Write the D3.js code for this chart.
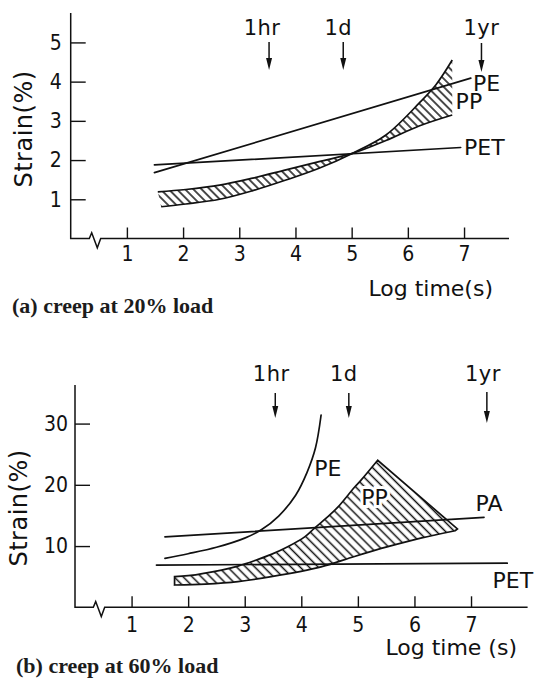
<!DOCTYPE html>
<html><head><meta charset="utf-8">
<script src="https://cdn.jsdelivr.net/npm/d3@7"></script>
<style>
body{margin:0;background:#fff}
svg{display:block;background:#fff}
.f text{font-family:"DejaVu Sans",sans-serif;fill:#111}
.tick text{font-family:"DejaVu Sans Condensed","DejaVu Sans",sans-serif;font-stretch:condensed;font-size:21px;fill:#111}
.cap{font-family:"Liberation Serif","Times New Roman",serif;font-weight:bold;font-size:22px;fill:#1c1c1c}
</style></head><body>
<svg id="c" width="546" height="689"></svg>
<script>
// ---------- data ----------
const xTicks = [1, 2, 3, 4, 5, 6, 7];
const aYTicks = [1, 2, 3, 4, 5];
const bYTicks = [10, 20, 30];
const markLabels = ["1hr", "1d", "1yr"];
const aMarkX = [3.53, 4.85, 7.31];
const bMarkX = [3.54, 4.84, 7.28];

// (a) creep at 20% load  [log time, strain %]
const aPE  = [[1.49, 1.68], [7.12, 4.09]];
const aPET = [[1.49, 1.875], [6.94, 2.32]];
const aPPsteep  = [[1.61, 0.81], [2.05, 0.88], [2.65, 1.0], [3.24, 1.22], [3.83, 1.49], [4.42, 1.79], [5.01, 2.17], [5.61, 2.64], [6.2, 3.45], [6.5, 3.92], [6.79, 4.55]];
const aPPgentle = [[1.55, 1.19], [2.05, 1.25], [2.65, 1.36], [3.24, 1.54], [3.83, 1.75], [4.42, 1.96], [5.01, 2.17], [5.61, 2.5], [6.2, 2.87], [6.79, 3.15]];
const aLabels = [["PE", 7.16, 3.97], ["PP", 6.85, 3.51], ["PET", 7.0, 2.32]];

// (b) creep at 60% load
const bPE  = [[1.59, 8.0], [2.0, 8.75], [2.5, 9.8], [3.0, 11.3], [3.3, 12.7], [3.6, 14.9], [3.9, 18.3], [4.1, 22.0], [4.25, 26.0], [4.35, 31.4]];
const bPA  = [[1.59, 11.5], [7.23, 14.7]];
const bPET = [[1.44, 6.9], [7.64, 7.2]];
const bPPupper = [[1.76, 5.0], [2.0, 5.16], [2.59, 6.08], [2.88, 6.73], [3.17, 7.6], [3.47, 8.64], [3.76, 9.89], [4.06, 11.5], [4.23, 12.9], [4.47, 14.8], [4.65, 16.4], [4.94, 19.6], [5.06, 20.8], [5.35, 24.0]];
const bPPedge  = [[5.35, 24.0], [6.76, 12.8]];
const bPPlower = [[1.76, 3.64], [2.3, 3.8], [2.88, 4.2], [3.47, 5.0], [4.35, 6.6], [4.94, 8.3], [5.53, 9.9], [6.11, 11.3], [6.72, 12.5]];
const bLabels = [["PE", 4.23, 22.7], ["PP", 5.06, 18.0], ["PA", 7.08, 17.0], ["PET", 7.38, 4.45]];

// ---------- drawing ----------
const svg = d3.select("#c");
const defs = svg.append("defs");
function hatch(id, step, w) {
  const pat = defs.append("pattern").attr("id", id)
    .attr("patternUnits", "userSpaceOnUse").attr("width", step).attr("height", step)
    .attr("patternTransform", "rotate(-45)");
  pat.append("line").attr("x1", step / 2).attr("x2", step / 2).attr("y1", 0).attr("y2", step)
    .attr("stroke", "#111").attr("stroke-width", w);
}
hatch("hatchA", 5.8, 1.5);
hatch("hatchB", 6.4, 1.5);

function panel(cfg) {
  const g = svg.append("g").attr("class", "f");
  const x = d3.scaleLinear().domain(cfg.xDom).range(cfg.xRange);
  const y = d3.scaleLinear().domain(cfg.yDom).range(cfg.yRange);
  const line = d3.line().x(d => x(d[0])).y(d => y(d[1])).curve(d3.curveCatmullRom.alpha(0.5));
  const straight = d3.line().x(d => x(d[0])).y(d => y(d[1]));

  // hatched PP band
  const fillPath = cfg.band.map((seg, i) => {
    const p = line(seg);
    return i === 0 ? p : "L" + p.slice(1);
  }).join("") + "Z";
  g.append("path").attr("d", fillPath).attr("fill", `url(#${cfg.hatch})`).attr("stroke", "none");
  if (cfg.bandClosed) {
    g.append("path").attr("d", fillPath).attr("fill", "none").attr("stroke", "#111").attr("stroke-width", 1.7);
  } else {
    cfg.band.forEach(seg => g.append("path").attr("d", line(seg)).attr("fill", "none")
      .attr("stroke", "#111").attr("stroke-width", 1.7));
  }
  cfg.lines.forEach(l => g.append("path").attr("d", (l.length > 2 ? line : straight)(l))
    .attr("fill", "none").attr("stroke", "#111").attr("stroke-width", 1.7).attr("stroke-linecap", "round"));

  // axes
  const x0 = x(cfg.xDom[0]), y0 = y(0), yTop = y(cfg.yDom[1]), xEnd = x(cfg.xDom[1]);
  const zs = x0 + cfg.zig;
  g.append("path")
    .attr("d", `M${x0},${yTop}V${y0}H${zs}l2.4,-5.7l5.6,15l3.4,-9.3H${xEnd}`)
    .attr("fill", "none").attr("stroke", "#111").attr("stroke-width", 1.5);
  const ya = g.append("g").attr("transform", `translate(${x0},0)`)
    .call(d3.axisLeft(y).tickValues(cfg.yTicks).tickSize(-15).tickPadding(cfg.yPad).tickFormat(d3.format("d")));
  const xa = g.append("g").attr("transform", `translate(0,${y0})`)
    .call(d3.axisBottom(x).tickValues(xTicks).tickSize(-11).tickPadding(cfg.xPad).tickFormat(d3.format("d")));
  [ya, xa].forEach(a => {
    a.select(".domain").remove();
    a.selectAll(".tick line").attr("stroke", "#111").attr("stroke-width", 1.4);
    a.attr("font-family", null).attr("font-size", null);
  });

  // time markers
  cfg.marks.forEach((m, i) => {
    const mx = x(m);
    const top = cfg.arrowTop[i], tip = cfg.arrowTip[i];
    g.append("line").attr("x1", mx).attr("x2", mx).attr("y1", top).attr("y2", tip - 10)
      .attr("stroke", "#111").attr("stroke-width", 1.5);
    g.append("path").attr("d", `M${mx - 3},${tip - 12}L${mx + 3},${tip - 12}L${mx},${tip}Z`).attr("fill", "#111");
    g.append("text").attr("x", mx + cfg.labelDx[i]).attr("y", cfg.labelY)
      .attr("text-anchor", "middle").attr("font-size", 21).attr("letter-spacing", 0.5).text(markLabels[i]);
  });

  // curve labels
  cfg.labels.forEach(([t, lx, ly]) => {
    const tx = g.append("text").attr("x", x(lx)).attr("y", y(ly)).attr("dy", "0.36em")
      .attr("font-size", 22).text(t);
    if (t === "PP" && cfg.ppHalo) tx.attr("stroke", "#fff").attr("stroke-width", 6).attr("paint-order", "stroke");
  });

  // axis titles
  g.append("text").attr("transform", `translate(${cfg.yTitle[0]},${cfg.yTitle[1]}) rotate(-90)`)
    .attr("text-anchor", "middle").attr("font-size", 24).attr("letter-spacing", 0.5).text("Strain(%)");
  g.append("text").attr("x", cfg.xTitle[0]).attr("y", cfg.xTitle[1]).attr("text-anchor", "end")
    .attr("font-size", 22).text(cfg.xTitleText);
  svg.append("text").attr("class", "cap").attr("x", cfg.cap[0]).attr("y", cfg.cap[1]).text(cfg.capText);
}

panel({
  xDom: [0, 7.8], xRange: [70.7, 509], yDom: [0, 5.75], yRange: [238.5, 13],
  yTicks: aYTicks, yPad: 9, xPad: 8, zig: 18.6, hatch: "hatchA",
  band: [aPPsteep, aPPgentle.slice().reverse()], bandClosed: false,
  lines: [aPE, aPET], labels: aLabels, ppHalo: false,
  marks: aMarkX, arrowTop: [42, 42, 43], arrowTip: [70, 70, 72], labelDx: [-7, -5, 0], labelY: 34.5,
  yTitle: [31.5, 129], xTitle: [493, 296], xTitleText: "Log time(s)",
  cap: [12, 313], capText: "(a) creep at 20% load"
});
panel({
  xDom: [0, 8], xRange: [75, 527.6], yDom: [0, 36.3], yRange: [607.3, 385],
  yTicks: bYTicks, yPad: 7, xPad: 10, zig: 18.3, hatch: "hatchB",
  band: [bPPupper, bPPedge, bPPlower.slice().reverse()], bandClosed: true,
  lines: [bPE, bPA, bPET], labels: bLabels, ppHalo: true,
  marks: bMarkX, arrowTop: [393, 393, 392], arrowTip: [418, 418, 423], labelDx: [-4, -5, -4], labelY: 380.5,
  yTitle: [26.5, 508], xTitle: [517, 655], xTitleText: "Log time (s)",
  cap: [16, 673], capText: "(b) creep at 60% load"
});
</script>
</body></html>
